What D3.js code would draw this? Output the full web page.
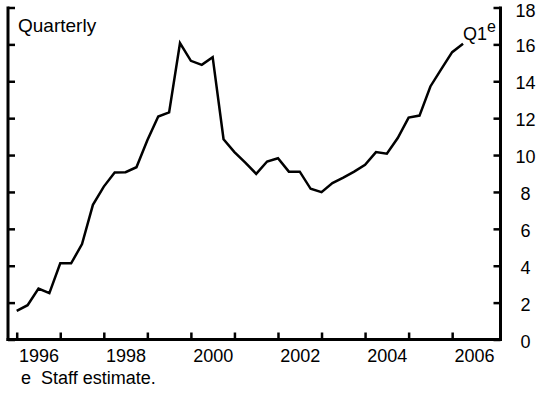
<!DOCTYPE html>
<html><head><meta charset="utf-8">
<script src="https://cdn.jsdelivr.net/npm/d3@7"></script>
<style>
body{margin:0;background:#fff;}
text{font-family:"Liberation Sans",Arial,sans-serif;fill:#000;}
</style></head>
<body><svg id="c" width="539" height="394"></svg>
<script>
const quarters = ["1995Q4","1996Q1","1996Q2","1996Q3","1996Q4","1997Q1","1997Q2","1997Q3","1997Q4","1998Q1","1998Q2","1998Q3","1998Q4","1999Q1","1999Q2","1999Q3","1999Q4","2000Q1","2000Q2","2000Q3","2000Q4","2001Q1","2001Q2","2001Q3","2001Q4","2002Q1","2002Q2","2002Q3","2002Q4","2003Q1","2003Q2","2003Q3","2003Q4","2004Q1","2004Q2","2004Q3","2004Q4","2005Q1","2005Q2","2005Q3","2005Q4","2006Q1"];
const values = [1.55,1.86,2.76,2.51,4.13,4.13,5.17,7.30,8.29,9.05,9.07,9.34,10.8,12.09,12.31,16.07,15.11,14.89,15.31,10.86,10.16,9.59,8.98,9.65,9.83,9.10,9.10,8.17,7.99,8.48,8.78,9.10,9.47,10.16,10.07,10.92,12.03,12.14,13.72,14.66,15.58,16.03];
const yTicks = [0,2,4,6,8,10,12,14,16,18];
const yearTicks = [1996,1997,1998,1999,2000,2001,2002,2003,2004,2005,2006];
const yearLabels = [1996,1998,2000,2002,2004,2006];

const svg = d3.select("#c");
const L = 8, R = 500.5, T = 7.5, B = 339.5;
const x = d3.scaleLinear().domain([1995.8, 2007.11]).range([L, R]);
const y = d3.scaleLinear().domain([0, 18]).range([B, T]);
const pos = q => +q.slice(0,4) + (+q.slice(5))/4;
const FF = "Liberation Sans, Arial, sans-serif";

// line
const data = quarters.map((q,i)=>({x:pos(q), v:values[i]}));
svg.append("path").datum(data)
  .attr("fill","none").attr("stroke","#000").attr("stroke-width",2.5).attr("stroke-linejoin","miter")
  .attr("d", d3.line().x(d=>x(d.x)).y(d=>y(d.v)));

// left axis (ticks inward)
const gl = svg.append("g").attr("transform",`translate(${L},0)`)
  .call(d3.axisRight(y).tickValues(yTicks).tickSize(7).tickSizeOuter(0).tickFormat(""));
// right axis ticks inward
const gr = svg.append("g").attr("transform",`translate(${R},0)`)
  .call(d3.axisLeft(y).tickValues(yTicks).tickSize(7).tickSizeOuter(0).tickFormat(""));
// right labels
const grl = svg.append("g").attr("transform",`translate(${R},0)`)
  .call(d3.axisRight(y).tickValues(yTicks).tickSize(0).tickPadding(25).tickFormat(d3.format("d")));
grl.select(".domain").remove();
grl.selectAll("text").attr("text-anchor","middle").attr("font-size",18).attr("font-family",FF)
  .attr("dy", d => d === 18 ? "9px" : "0.42em");
// bottom axis ticks inward
const gb = svg.append("g").attr("transform",`translate(0,${B})`)
  .call(d3.axisTop(x).tickValues(yearTicks).tickSize(7).tickSizeOuter(0).tickFormat(""));
gb.select(".domain").attr("d",`M${L-1.5},0H${R+1.5}`);
const gbl = svg.append("g").attr("transform",`translate(0,${B})`)
  .call(d3.axisBottom(x).tickValues(yearLabels.map(v=>v+0.5)).tickSize(0).tickPadding(10).tickFormat(d=>String(Math.floor(d))));
gbl.select(".domain").remove();
gbl.selectAll("text").attr("font-size",18).attr("font-family",FF);

[gl,gr].forEach(g=>{g.select(".domain").attr("d",`M0,${T-1}V${B+1.5}`);});
svg.selectAll(".domain").attr("stroke","#000").attr("stroke-width",3);
svg.selectAll(".tick line").attr("stroke","#000").attr("stroke-width",2.5);

svg.append("text").attr("x",18).attr("y",32).attr("font-size",19).text("Quarterly");
const q1 = svg.append("text").attr("x",463).attr("y",40).attr("font-size",18);
q1.append("tspan").text("Q1");
q1.append("tspan").attr("dy",-8).attr("font-size",16).text("e");
svg.append("text").attr("x",21).attr("y",384).attr("font-size",18).attr("xml:space","preserve").text("e  Staff estimate.");
</script></body></html>
